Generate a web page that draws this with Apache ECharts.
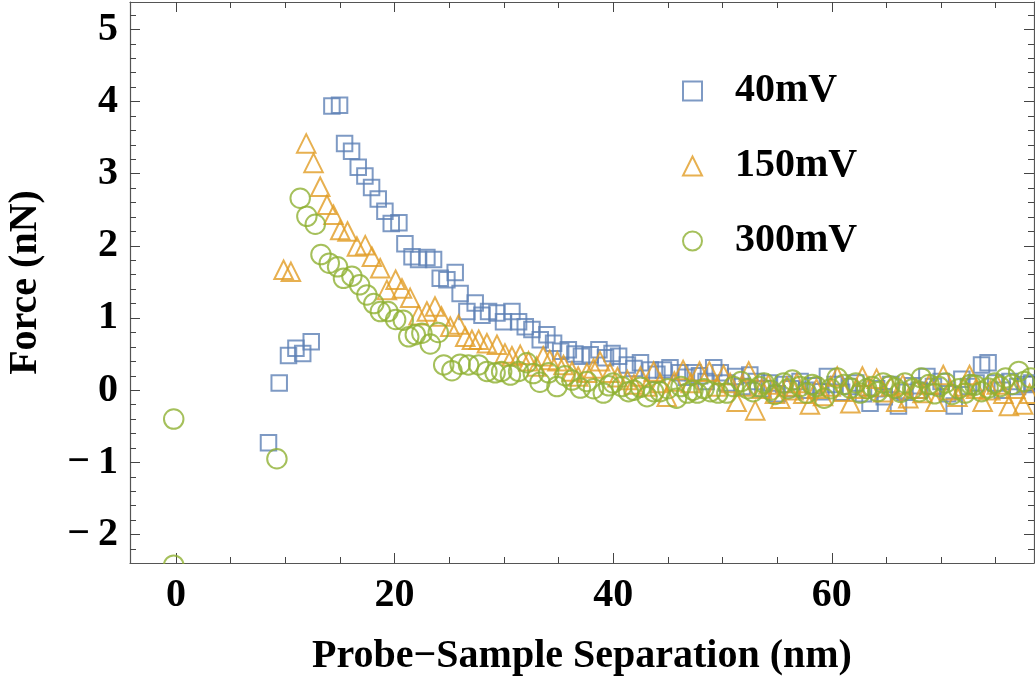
<!DOCTYPE html>
<html>
<head>
<meta charset="utf-8">
<script src="https://cdn.jsdelivr.net/npm/echarts@6/dist/echarts.min.js"></script>
<style>html,body{margin:0;padding:0;background:#fff}#c{width:1035px;height:684px}</style>
</head>
<body>
<div id="c"></div>
<script>
const seriesNames = ['40mV', '150mV', '300mV'];
const xTicks = [0, 20, 40, 60];
const xMinorTicks = [5, 10, 15, 25, 30, 35, 45, 50, 55, 65, 70, 75];
const yTicks = [-2, -1, 0, 1, 2, 3, 4, 5];

const data40 = [[8.47,-0.73],[9.45,0.10],[10.3,0.48],[10.98,0.58],[11.6,0.51],[12.38,0.67],
[14.27,3.94],[14.97,3.95],[15.43,3.42],[16.07,3.31],[16.68,3.09],[17.29,2.97],[17.9,2.81],[18.51,2.65],[19.12,2.48],[19.7,2.31],[20.4,2.32],[20.95,2.03],[21.6,1.85],[22.2,1.81],[22.96,1.84],[23.57,1.81],[24.18,1.55],[24.79,1.53],[25.55,1.63],[26.0,1.34],[26.62,1.09],[27.38,1.21],[28.0,1.04],[28.6,1.09],[29.37,1.07],[29.97,0.95],[30.74,1.09],[31.35,0.95],[31.96,0.88],[32.57,0.84],[33.33,0.70],[33.94,0.77],[34.55,0.65],[35.2,0.54],[35.9,0.56],[36.5,0.50],[37.1,0.47],[37.9,0.49],[38.7,0.56],[39.3,0.45],[39.9,0.51],[40.5,0.47],[41.3,0.35],[41.9,0.30],[42.5,0.38],[43.4,0.28],[44.0,0.22],[44.6,0.28],[45.2,0.31],[46.1,0.24],[46.7,0.18],[47.3,0.24],[47.9,0.20],[48.5,0.12],[49.2,0.31],[49.8,0.24],[50.4,0.10],[51.2,0.19],[51.8,0.05],[52.5,0.21],[53.1,0.12],[53.7,0.02],[54.3,0.10],[55.0,-0.05],[55.6,0.08],[56.3,0.02],[57.1,0.12],[57.7,0.0],[58.3,0.06],[59.0,-0.02],[59.6,0.19],[60.3,0.08],[60.9,-0.03],[61.6,0.05],[62.2,0.10],[62.9,-0.05],[63.5,-0.18],[64.1,0.02],[64.8,-0.09],[65.4,0.08],[66.1,-0.22],[66.7,-0.03],[67.4,0.06],[68.0,0.0],[68.7,0.19],[69.3,0.05],[70.0,0.12],[70.6,-0.05],[71.2,-0.22],[71.9,0.15],[72.5,0.05],[73.2,0.10],[73.7,0.35],[74.3,0.38],[75.0,0.10],[75.6,0.0],[76.3,0.12],[77.0,0.05],[77.7,0.08],[78.3,0.10]];

const data150 = [[9.85,1.67],[10.52,1.64],[11.92,3.42],[12.59,3.15],[13.2,2.82],[13.82,2.57],[14.42,2.43],[15.03,2.22],[15.7,2.2],[16.56,1.99],[17.32,2.01],[17.93,1.85],[18.69,1.69],[19.3,1.39],[20.1,1.53],[20.68,1.41],[21.43,1.28],[22.2,1.04],[22.96,1.09],[23.7,1.16],[24.3,1.02],[25.1,0.88],[25.86,0.91],[26.47,0.74],[27.08,0.70],[27.7,0.70],[28.45,0.65],[29.37,0.63],[30.1,0.51],[30.74,0.47],[31.5,0.49],[32.26,0.40],[33.0,0.33],[33.6,0.47],[34.2,0.42],[34.9,0.40],[35.46,0.35],[36.23,0.26],[36.8,0.19],[37.6,0.24],[38.2,0.30],[38.8,0.40],[39.7,0.24],[40.4,0.18],[41.3,0.14],[41.9,0.08],[42.5,0.19],[43.1,0.05],[43.7,0.26],[44.3,0.10],[44.9,-0.09],[45.6,0.12],[46.4,0.28],[47.1,0.10],[47.9,0.26],[48.8,0.26],[49.5,0.05],
[50.1,0.21],[50.7,0.10],[51.3,-0.16],[51.9,0.05],[52.4,0.26],[53.0,-0.28],[53.6,0.02],[54.2,0.08],[54.8,-0.05],[55.3,-0.12],[55.9,0.05],[56.5,0.0],[56.8,0.10],[57.4,-0.05],[58.0,-0.20],[58.6,0.02],[59.2,-0.08],[59.9,0.05],[60.5,0.19],[61.1,-0.02],[61.7,-0.18],[62.3,0.02],[62.8,0.19],[63.4,0.05],[64.1,0.16],[64.7,-0.03],[65.4,0.05],[65.9,-0.16],[66.5,0.08],[67.0,-0.11],[67.7,0.02],[68.3,-0.04],[68.9,0.08],[69.5,-0.16],[70.2,0.21],[70.8,0.0],[71.5,-0.09],[72.1,0.05],[72.6,0.21],[73.2,0.02],[73.8,-0.16],[74.5,0.0],[75.1,0.08],[75.7,-0.05],[76.2,-0.22],[76.8,0.02],[77.5,-0.20],[78.1,-0.05]];

const data300 = [[-0.2,-0.40],[-0.2,-2.425],[9.24,-0.95],[11.37,2.66],[11.98,2.41],[12.75,2.30],[13.27,1.88],[14.03,1.76],[14.79,1.71],[15.33,1.55],[16.1,1.58],[16.8,1.46],[17.47,1.32],[18.1,1.20],[18.7,1.09],[19.4,1.09],[20.1,0.98],[20.8,0.97],[21.3,0.74],[21.9,0.77],[22.5,0.79],[23.27,0.64],[24.0,0.80],[24.5,0.35],[25.25,0.27],[26.0,0.36],[26.77,0.35],[27.7,0.35],[28.45,0.26],[29.2,0.24],[29.8,0.26],[30.6,0.21],[31.35,0.26],[32.1,0.38],[32.7,0.23],[33.3,0.11],[34.1,0.24],[34.86,0.05],[35.6,0.20],[36.23,0.14],[37.0,0.03],[37.6,0.12],[38.2,0.02],[39.1,-0.04],[39.6,0.06],[40.0,0.10],[40.8,0.05],[41.4,-0.02],[41.9,0.0],[42.5,0.04],[43.1,-0.09],[43.7,-0.02],[44.3,-0.02],[45.0,0.02],[45.8,-0.11],[46.2,0.05],[46.8,-0.04],[47.3,0.0],[47.7,-0.04],[48.3,0.02],[48.9,-0.02],[49.6,-0.04],
[50.4,-0.04],[51.0,0.05],[51.7,0.12],[52.3,0.02],[52.8,-0.02],[53.4,0.05],[53.8,0.10],[54.4,0.0],[54.8,-0.06],[55.6,0.10],[56.0,0.02],[56.4,0.14],[57.1,0.05],[57.7,-0.04],[58.2,0.08],[58.6,0.05],[59.3,-0.11],[59.9,0.02],[60.5,0.17],[61.1,0.08],[61.7,0.03],[62.2,0.10],[62.6,-0.04],[63.2,0.02],[63.7,0.05],[64.2,-0.02],[64.7,0.10],[65.3,0.06],[65.8,0.03],[66.3,-0.03],[66.7,0.10],[67.4,0.02],[68.0,-0.02],[68.2,0.17],[68.9,0.08],[69.4,-0.05],[69.8,0.05],[70.4,0.10],[71.0,-0.06],[71.6,0.02],[72.2,-0.04],[72.7,0.08],[73.1,0.07],[73.7,-0.02],[74.3,0.03],[74.9,0.10],[75.4,0.05],[75.9,0.17],[76.5,0.08],[77.1,0.26],[77.6,0.12],[78.2,0.17]];

const colors = ['#5E81B5', '#E19C24', '#8FB032'];
const symbols = ['rect', 'triangle', 'circle'];
const sizes = [15.5, 18.5, 19.5];

const yMinorTicks = [];
for (let k = -11; k <= 26; k++) { if (k % 5 !== 0) yMinorTicks.push(Math.round(k * 2) / 10); }

const X_MIN = -4.2, X_MAX = 78.5, Y_MIN = -2.395, Y_MAX = 5.38;
const FONT = '"Liberation Serif", "Times New Roman", serif';
const frameColor = '#555';

function xAx(pos, ticks, len, showLine, showLabel) {
  return {
    type: 'value', position: pos, min: X_MIN, max: X_MAX,
    axisLine: { show: showLine, onZero: false, lineStyle: { color: frameColor, width: 1.2 } },
    axisTick: { show: true, inside: true, length: len, customValues: ticks, lineStyle: { color: '#444', width: 1 } },
    axisLabel: { show: showLabel, customValues: ticks, margin: 13, color: '#000', fontFamily: FONT, fontWeight: 'bold', fontSize: 40 },
    splitLine: { show: false }
  };
}
function yAx(pos, ticks, len, showLine, showLabel) {
  return {
    type: 'value', position: pos, min: Y_MIN, max: Y_MAX,
    axisLine: { show: showLine, onZero: false, lineStyle: { color: frameColor, width: 1.2 } },
    axisTick: { show: true, inside: true, length: len, customValues: ticks, lineStyle: { color: '#444', width: 1 } },
    axisLabel: { show: showLabel, customValues: ticks, margin: 12, color: '#000', fontFamily: FONT, fontWeight: 'bold', fontSize: 40,
      formatter: v => (v < 0 ? '\u2212\u2009' + Math.abs(v) : String(v)) },
    splitLine: { show: false }
  };
}

const xMain = xAx('bottom', xTicks, 10, true, true);
xMain.name = 'Probe\u2212Sample Separation (nm)';
xMain.nameLocation = 'middle';
xMain.nameGap = 74;
xMain.nameTextStyle = { color: '#000', fontFamily: FONT, fontWeight: 'bold', fontSize: 40 };
const yMain = yAx('left', yTicks, 10, true, true);
yMain.name = 'Force (nN)';
yMain.nameLocation = 'middle';
yMain.nameRotate = 90;
yMain.nameGap = 84;
yMain.nameTextStyle = { color: '#000', fontFamily: FONT, fontWeight: 'bold', fontSize: 40 };

const allData = [data40, data150, data300];
const chart = echarts.init(document.getElementById('c'), null, { renderer: 'canvas' });
chart.setOption({
  animation: false,
  backgroundColor: '#fff',
  grid: { left: 130, right: 1, top: 2, bottom: 121, outerBoundsMode: 'none' },
  xAxis: [xMain, xAx('bottom', xMinorTicks, 6, false, false), xAx('top', xTicks, 10, true, false), xAx('top', xMinorTicks, 6, false, false)],
  yAxis: [yMain, yAx('left', yMinorTicks, 6, false, false), yAx('right', yTicks, 10, true, false), yAx('right', yMinorTicks, 6, false, false)],
  legend: {
    orient: 'vertical', left: 682, top: 71, padding: 0, itemGap: 35,
    itemWidth: 19, itemHeight: 19,
    textStyle: { color: '#000', fontFamily: FONT, fontWeight: 'bold', fontSize: 40, padding: [0, 0, 0, 28] },
    data: seriesNames.map((n, i) => ({ name: n, icon: symbols[i], itemStyle: { color: 'rgba(0,0,0,0)', borderColor: colors[i], borderWidth: 2 } }))
  },
  series: allData.map((d, i) => ({
    name: seriesNames[i], type: 'scatter', data: d, clip: false,
    xAxisIndex: 0, yAxisIndex: 0,
    symbol: symbols[i], symbolSize: sizes[i],
    itemStyle: { color: 'rgba(0,0,0,0)', borderColor: colors[i], borderWidth: 2 },
    emphasis: { disabled: true }
  }))
});
// white mask just below the frame so markers sitting on the bottom edge look clipped like the reference
const yBottom = chart.convertToPixel({ yAxisIndex: 0 }, Y_MIN);
const xLeft = chart.convertToPixel({ xAxisIndex: 0 }, X_MIN);
const xRight = chart.convertToPixel({ xAxisIndex: 0 }, X_MAX);
chart.setOption({
  graphic: [{ type: 'rect', z: 100, silent: true,
    shape: { x: xLeft - 20, y: yBottom + 1, width: xRight - xLeft + 40, height: 14 },
    style: { fill: '#fff' } }]
});
</script>
</body>
</html>
